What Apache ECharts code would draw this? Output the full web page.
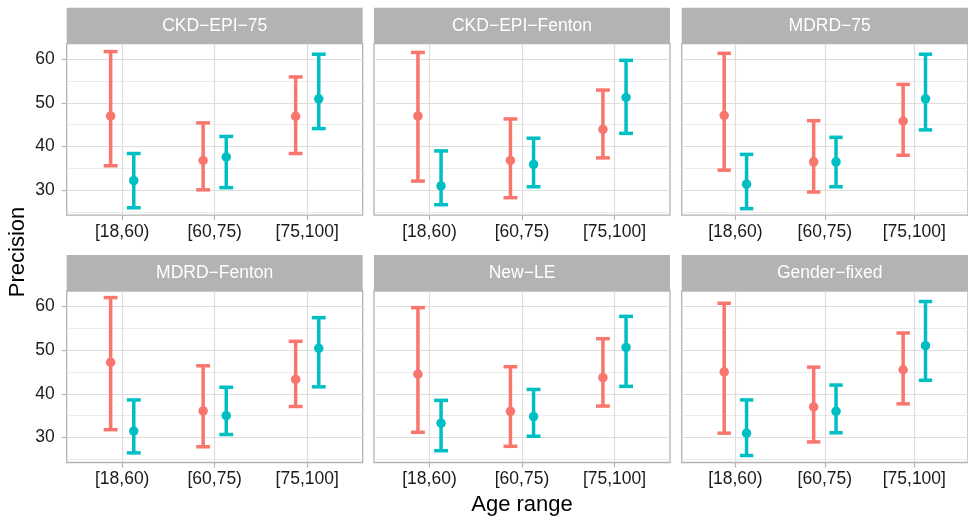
<!DOCTYPE html>
<html>
<head>
<meta charset="utf-8">
<script src="https://cdn.jsdelivr.net/npm/echarts@6/dist/echarts.min.js"></script>
<style>
  html, body { margin: 0; padding: 0; background: #fff; }
  #chart { width: 968px; height: 518px; }
</style>
</head>
<body>
<div id="chart"></div>
<script>
const panels = ["CKD−EPI−75", "CKD−EPI−Fenton", "MDRD−75", "MDRD−Fenton", "New−LE", "Gender−fixed"];
const ageRanges = ["[18,60)", "[60,75)", "[75,100]"];
const yTicks = [30, 40, 50, 60];
const yMinorTicks = [25, 35, 45, 55];

// first group (red), one row per panel, one value per age range
const redLow = [
  [35.6, 30.1, 38.4],
  [32.1, 28.3, 37.4],
  [34.6, 29.6, 38.0],
  [31.8, 27.9, 37.1],
  [31.2, 28.0, 37.2],
  [31.0, 29.0, 37.7],
];
const redMid = [
  [47.0, 36.8, 46.9],
  [47.0, 36.8, 43.9],
  [47.1, 36.5, 45.8],
  [47.2, 36.1, 43.3],
  [44.5, 36.0, 43.7],
  [45.0, 37.0, 45.5],
];
const redHigh = [
  [61.7, 45.4, 55.9],
  [61.5, 46.3, 52.9],
  [61.3, 45.9, 54.2],
  [62.0, 46.4, 52.0],
  [59.7, 46.2, 52.6],
  [60.7, 46.1, 53.9],
];

// second group (teal)
const tealLow = [
  [26.0, 30.6, 44.1],
  [26.7, 30.8, 43.0],
  [25.8, 30.8, 43.8],
  [26.5, 30.7, 41.6],
  [27.0, 30.3, 41.7],
  [25.9, 31.1, 43.1],
];
const tealMid = [
  [32.2, 37.6, 50.9],
  [31.0, 35.9, 51.2],
  [31.4, 36.5, 50.9],
  [31.5, 35.0, 50.4],
  [33.3, 34.8, 50.6],
  [31.0, 36.0, 51.0],
];
const tealHigh = [
  [38.4, 42.3, 61.1],
  [39.0, 41.9, 59.7],
  [38.2, 42.1, 61.1],
  [38.6, 41.5, 57.4],
  [38.5, 41.0, 57.7],
  [38.6, 42.0, 61.1],
];

const FONT = "Liberation Sans, Arial, Helvetica, sans-serif";
const RED = "#F8766D";
const TEAL = "#00BFC4";
const DODGE = 0.125;
const CAP = 0.075;

const colLeft = [66.7, 374, 681.7];
const rowTop = [43.7, 291];
const panelW = 296;
const panelH = 171.5;
const stripH = 36;

function errorBar(color) {
  return function (params, api) {
    const x = api.value(0);
    const lo = api.value(1);
    const hi = api.value(2);
    const a = api.coord([x, lo]);
    const b = api.coord([x, hi]);
    const l = api.coord([x - CAP, lo])[0];
    const r = api.coord([x + CAP, lo])[0];
    const style = { stroke: color, lineWidth: 3.5, lineCap: "butt" };
    return {
      type: "group",
      children: [
        { type: "line", shape: { x1: a[0], y1: a[1], x2: b[0], y2: b[1] }, style: style },
        { type: "line", shape: { x1: l, y1: a[1], x2: r, y2: a[1] }, style: style },
        { type: "line", shape: { x1: l, y1: b[1], x2: r, y2: b[1] }, style: style },
      ],
    };
  };
}

const grid = [];
const xAxis = [];
const yAxis = [];
const series = [];
const graphic = [];

panels.forEach(function (name, i) {
  const row = Math.floor(i / 3);
  const col = i % 3;
  grid.push({
    left: colLeft[col],
    top: rowTop[row],
    width: panelW,
    height: panelH,
    show: true,
    backgroundColor: "#fff",
    borderColor: "#B3B3B3",
    borderWidth: 1.3,
  });
  xAxis.push({
    gridIndex: i,
    type: "value",
    min: 0.4,
    max: 3.6,
    axisLine: { show: false },
    axisTick: {
      show: true,
      customValues: [1, 2, 3],
      length: 5,
      lineStyle: { color: "#B3B3B3", width: 1.2 },
    },
    axisLabel: {
      customValues: [1, 2, 3],
      formatter: function (v) {
        return ageRanges[Math.round(v) - 1];
      },
      fontSize: 17.5,
      fontFamily: FONT,
      color: "#1A1A1A",
      margin: 8,
    },
    splitLine: { show: true, lineStyle: { color: "#DEDEDE", width: 1.2 } },
  });
  // major grid + labels
  yAxis.push({
    gridIndex: i,
    type: "value",
    min: 24.3,
    max: 63.5,
    axisLine: { show: false },
    axisTick: {
      show: col === 0,
      customValues: yTicks,
      length: 5,
      lineStyle: { color: "#B3B3B3", width: 1.2 },
    },
    axisLabel: {
      show: col === 0,
      customValues: yTicks,
      fontSize: 17.5,
      fontFamily: FONT,
      color: "#1A1A1A",
      margin: 12,
    },
    splitLine: { show: true, lineStyle: { color: "#DEDEDE", width: 1.2 } },
  });
  // minor grid
  yAxis.push({
    gridIndex: i,
    type: "value",
    min: 24.3,
    max: 63.5,
    position: "left",
    axisLine: { show: false },
    axisTick: { show: false, customValues: yMinorTicks },
    axisLabel: { show: false },
    splitLine: { show: true, lineStyle: { color: "#E3E3E3", width: 0.7 } },
  });

  [
    [RED, -DODGE, redLow, redMid, redHigh],
    [TEAL, DODGE, tealLow, tealMid, tealHigh],
  ].forEach(function (g) {
    series.push({
      type: "custom",
      xAxisIndex: i,
      yAxisIndex: i * 2,
      renderItem: errorBar(g[0]),
      encode: { x: 0, y: [1, 2] },
      data: ageRanges.map(function (_, k) {
        return [k + 1 + g[1], g[2][i][k], g[4][i][k]];
      }),
      z: 2,
    });
    series.push({
      type: "scatter",
      xAxisIndex: i,
      yAxisIndex: i * 2,
      symbolSize: 9.5,
      itemStyle: { color: g[0], opacity: 1 },
      data: ageRanges.map(function (_, k) {
        return [k + 1 + g[1], g[3][i][k]];
      }),
      z: 3,
    });
  });

  // facet strip
  graphic.push({
    type: "rect",
    shape: { x: colLeft[col], y: rowTop[row] - stripH, width: panelW, height: stripH },
    style: { fill: "#B3B3B3" },
  });
  graphic.push({
    type: "text",
    x: colLeft[col] + panelW / 2,
    y: rowTop[row] - stripH / 2,
    style: {
      text: name,
      fill: "#fff",
      font: "17.5px " + FONT,
      align: "center",
      verticalAlign: "middle",
    },
  });
});

graphic.push({
  type: "text",
  x: 18,
  y: 252,
  rotation: Math.PI / 2,
  style: {
    text: "Precision",
    fill: "#000",
    font: "22px " + FONT,
    align: "center",
    verticalAlign: "middle",
  },
});
graphic.push({
  type: "text",
  x: 522,
  y: 505,
  style: {
    text: "Age range",
    fill: "#000",
    font: "22px " + FONT,
    align: "center",
    verticalAlign: "middle",
  },
});

const chart = echarts.init(document.getElementById("chart"));
chart.setOption({
  animation: false,
  grid: grid,
  xAxis: xAxis,
  yAxis: yAxis,
  series: series,
  graphic: graphic,
});
</script>
</body>
</html>
